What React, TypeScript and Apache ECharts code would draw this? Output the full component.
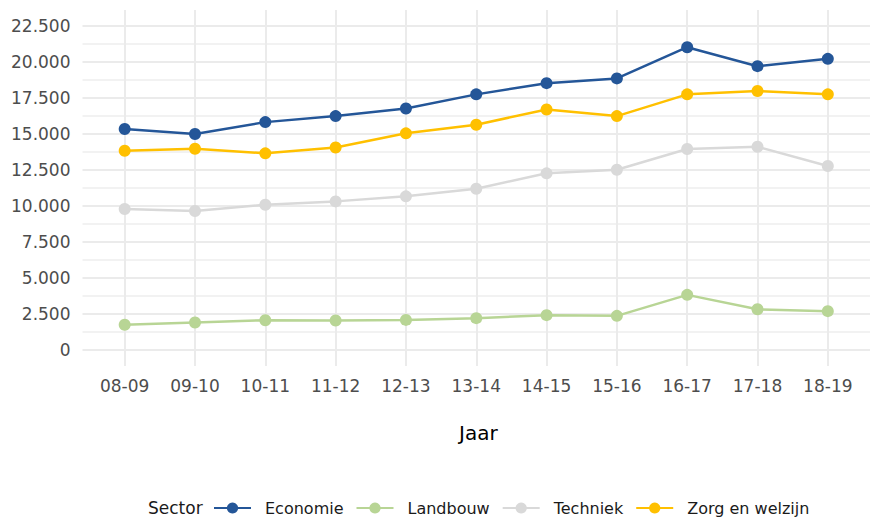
import React, { useEffect, useRef } from "react";
import * as echarts from "echarts";

const years = ["08-09", "09-10", "10-11", "11-12", "12-13", "13-14", "14-15", "15-16", "16-17", "17-18", "18-19"];
const economie = [15350, 15000, 15830, 16250, 16780, 17760, 18540, 18870, 21040, 19720, 20230];
const landbouw = [1740, 1900, 2060, 2040, 2080, 2200, 2410, 2360, 3820, 2820, 2690];
const techniek = [9790, 9650, 10090, 10320, 10670, 11200, 12270, 12520, 13960, 14120, 12780];
const zorg = [13840, 13980, 13660, 14070, 15050, 15650, 16710, 16250, 17760, 17990, 17760];
const yTicks = [0, 2500, 5000, 7500, 10000, 12500, 15000, 17500, 20000, 22500];
const yMinor = [1250, 3750, 6250, 8750, 11250, 13750, 16250, 18750, 21250];

const seriesNames = ["Economie", "Landbouw", "Techniek", "Zorg en welzijn"];
const seriesData = [economie, landbouw, techniek, zorg];
const colors = ["#245698", "#b8d595", "#d9d9d9", "#ffc000"];

const FONT = "DejaVu Sans";

function fmt(v: number) {
  return String(v).replace(/\B(?=(\d{3})+(?!\d))/g, ".");
}

export default function App() {
  const ref = useRef<HTMLDivElement>(null);
  useEffect(() => {
    document.body.style.margin = "0";
    const chart = echarts.init(ref.current!, null, { renderer: "svg" });
    const xIdx = years.map((_, i) => i);
    chart.setOption({
      animation: false,
      backgroundColor: "#ffffff",
      textStyle: { fontFamily: FONT },
      grid: { left: 82.5, top: 10, width: 794, height: 356, containLabel: false },
      xAxis: {
        type: "value",
        min: -0.6,
        max: 10.6,
        axisLine: { show: false },
        axisTick: { show: false, customValues: xIdx },
        axisLabel: {
          customValues: xIdx,
          formatter: (v: number) => years[Math.round(v)] ?? "",
          color: "#4d4d4d",
          fontSize: 17,
          fontFamily: FONT,
          margin: 11,
        },
        splitLine: { show: true, lineStyle: { color: "#ebebeb", width: 2 } },
      },
      yAxis: [
        {
          type: "value",
          min: -1125,
          max: 23625,
          axisLine: { show: false },
          axisTick: { show: false, customValues: yTicks },
          axisLabel: {
            customValues: yTicks,
            formatter: (v: number) => fmt(v),
            color: "#4d4d4d",
            fontSize: 17,
            fontFamily: FONT,
            margin: 12,
          },
          splitLine: { show: true, lineStyle: { color: "#ebebeb", width: 2 } },
        },
        {
          type: "value",
          min: -1125,
          max: 23625,
          position: "left",
          axisLine: { show: false },
          axisTick: { show: false, customValues: yMinor },
          axisLabel: { show: false, customValues: yMinor },
          splitLine: { show: true, lineStyle: { color: "#eeeeee", width: 1.5 } },
        },
      ],
      legend: {
        left: 213,
        top: 500,
        padding: 0,
        itemWidth: 37,
        itemHeight: 14,
        itemGap: 12,
        data: seriesNames,
        textStyle: { fontSize: 16, color: "#1a1a1a", fontFamily: FONT, padding: [0, 0, 0, 9] },
      },
      graphic: [
        {
          type: "text",
          left: 459,
          top: 423,
          style: { text: "Jaar", fontSize: 20, fill: "#000000", fontFamily: FONT },
        },
        {
          type: "text",
          left: 148,
          top: 499,
          style: { text: "Sector", fontSize: 17, fill: "#1a1a1a", fontFamily: FONT },
        },
      ],
      series: seriesNames.map((name, k) => ({
        name,
        type: "line",
        data: seriesData[k].map((v, i) => [i, v]),
        color: colors[k],
        lineStyle: { width: 2.5, color: colors[k] },
        itemStyle: { color: colors[k] },
        symbol: "circle",
        symbolSize: 12,
        showSymbol: true,
        z: k === 0 ? 5 : 3,
      })),
    });
    return () => chart.dispose();
  }, []);
  return <div ref={ref} style={{ width: 870, height: 521 }} />;
}
